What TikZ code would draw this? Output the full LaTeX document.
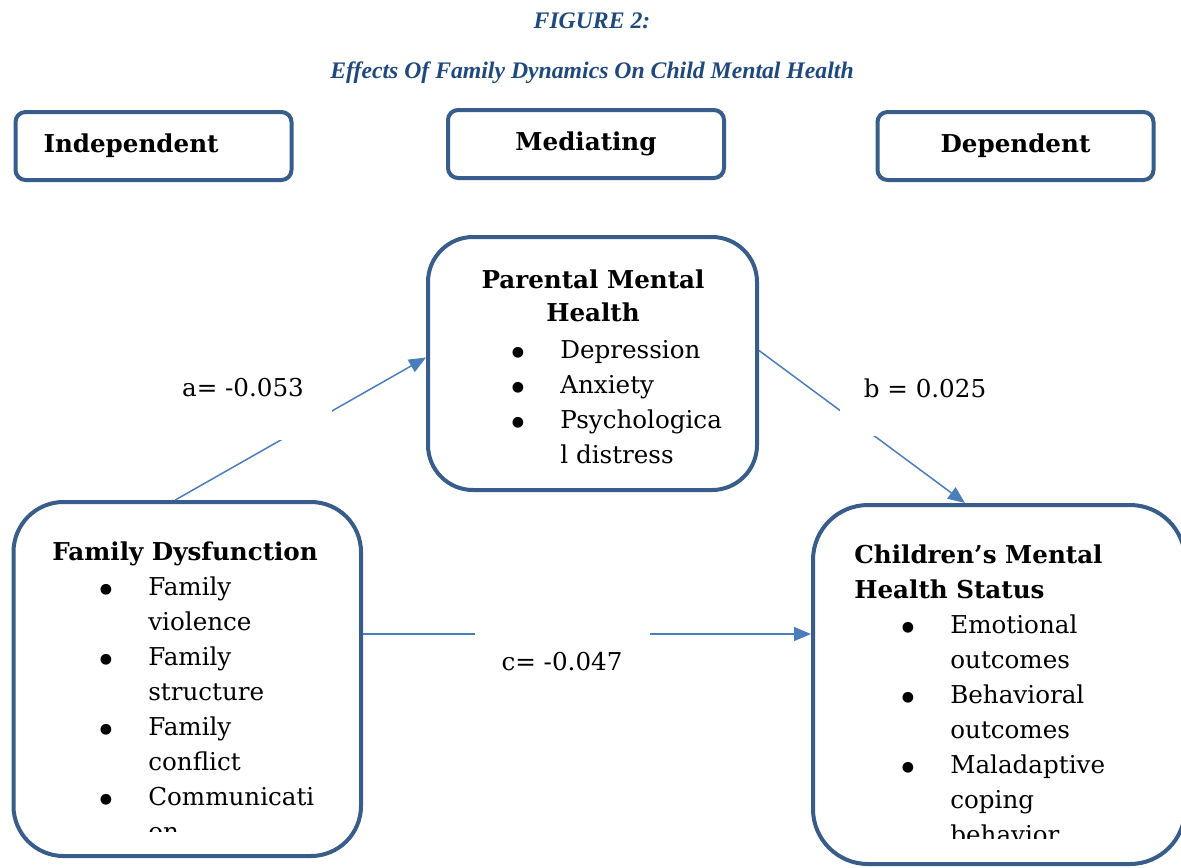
\documentclass[tikz,border=0pt]{standalone}
\usepackage{fontspec}
\setmainfont{DejaVu Serif}
\newfontfamily\titlefont{Liberation Serif}
\usetikzlibrary{arrows.meta,positioning,calc}
\definecolor{boxblue}{HTML}{385D8A}
\definecolor{arrowblue}{HTML}{4A7EBB}
\definecolor{titleblue}{HTML}{1F497D}
\newlength{\pxu}
\setlength{\pxu}{0.02cm}
\newcommand{\bul}{\hspace*{30\pxu}\makebox[48\pxu][c]{\raisebox{-8\pxu}[0pt][0pt]{\fontsize{21}{21}\selectfont\textbullet}}\hspace*{18\pxu}}
\newcommand{\cont}{\hspace*{96\pxu}}

\begin{document}
\begin{tikzpicture}[x=0.02cm,y=-0.02cm,
  titletxt/.style={text=titleblue,font=\titlefont\bfseries\itshape\fontsize{13.5}{16}\selectfont},
  hdrbox/.style={draw=boxblue,line width=4\pxu,rounded corners=10\pxu,inner xsep=28\pxu,
    text width=220\pxu,minimum height=68\pxu,align=center,font=\bfseries\fontsize{14}{20}\selectfont},
  bigbox/.style={draw=boxblue,line width=4\pxu},
  boxtext/.style={inner sep=0pt,align=left,anchor=north west,font=\fontsize{14}{19.92}\selectfont},
  conn/.style={arrowblue,line width=1.5\pxu,-{Triangle[length=0.34cm,width=0.28cm]}},
  gapbox/.style={fill=white,inner sep=0pt,text height=18\pxu,font=\fontsize{14}{20}\selectfont}]
  \useasboundingbox (0,0) rectangle (1181,867);

  % Title
  \node[titletxt] (fig) at (592,21) {FIGURE 2:};
  \node[titletxt] (sub) at (592,73) {Effects Of Family Dynamics On Child Mental Health};

  % Column headers
  \node[hdrbox,align=left] (indep) at (153.5,146) {Independent};
  \node[hdrbox] (medi) at (586,144) {Mediating};
  \node[hdrbox] (dep) at (1015.5,146) {Dependent};

  % Variable boxes
  \node[bigbox,rounded corners=45\pxu,minimum width=329\pxu,minimum height=253\pxu] (par) at (592.5,363.5) {};
  \node[bigbox,rounded corners=50\pxu,minimum width=347.5\pxu,minimum height=354\pxu] (fam) at (187.25,679) {};
  \node[bigbox,rounded corners=55\pxu,minimum width=372\pxu,minimum height=359\pxu] (chi) at (999,684.5) {};

  % Paths a, b, c
  \coordinate (cy) at (0,634);
  \draw[conn] ($(fam.north)+(-12,0)$) -- ($(par.west)+(0,-6)$);
  \draw[conn] ($(par.east)+(0,-13)$) -- ($(chi.north)+(-34,0)$);
  \draw[conn] (fam.east |- cy) -- (chi.west |- cy);
  \node[gapbox,minimum width=178\pxu,minimum height=80\pxu,text depth=26\pxu] (la) at (243,400) {a= -0.053};
  \node[gapbox,minimum width=170\pxu,minimum height=76\pxu,text depth=20\pxu] (lb) at (925,398) {b = 0.025};
  \node[gapbox,minimum width=175\pxu,minimum height=100\pxu,text depth=8\pxu] (lc) at (562,665) {c= -0.047};

  % Box contents
  \node[inner sep=0pt,anchor=north,align=center,font=\bfseries\fontsize{14}{19.2}\selectfont] (partitle) at (593,269) {Parental Mental\\Health};
  \node[boxtext] (parlist) at (464,340) {\bul Depression\\ \bul Anxiety\\ \bul Psychologica\\ \cont l distress};
  \begin{scope}
    \clip (0,0) rectangle (600,831);
    \node[boxtext] (famtext) at (52,541) {\textbf{Family Dysfunction}\\ \bul Family\\ \cont violence\\
      \bul Family\\ \cont structure\\ \bul Family\\ \cont conflict\\ \bul Communicati\\ \cont on};
  \end{scope}
  \begin{scope}
    \clip (600,0) rectangle (1181,838);
    \node[boxtext] (chitext) at (854,544) {\textbf{Children’s Mental}\\ \textbf{Health Status}\\ \bul Emotional\\
      \cont outcomes\\ \bul Behavioral\\ \cont outcomes\\ \bul Maladaptive\\ \cont coping\\ \cont behavior};
  \end{scope}
\end{tikzpicture}
\end{document}
